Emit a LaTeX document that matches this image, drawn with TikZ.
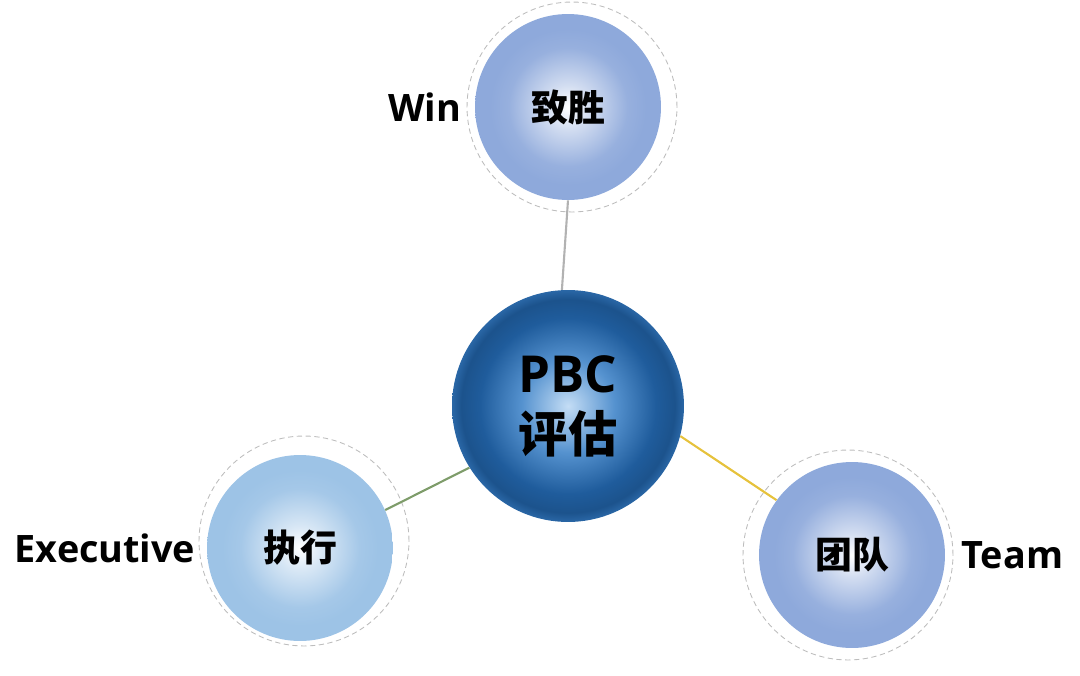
\documentclass[tikz,border=0pt]{standalone}
\usepackage{fontspec}
\setmainfont{Open Sans}
\newfontfamily\cjk{Noto Sans CJK SC}
\usetikzlibrary{positioning}

\definecolor{winblue}{HTML}{8EA9DB}
\definecolor{exeblue}{HTML}{9DC3E6}
\definecolor{hubdark}{HTML}{1F5C9C}
\definecolor{hubmid}{HTML}{5592CF}
\definecolor{hublight}{HTML}{C4DDF5}
\definecolor{ringgrey}{HTML}{BDBDBD}
\definecolor{linkgreen}{HTML}{7E9C6A}
\definecolor{linkgold}{HTML}{E6C23C}

\pgfdeclareradialshading{winball}{\pgfpoint{0bp}{0bp}}{color(0bp)=(white); color(6bp)=(winblue!40); color(16bp)=(winblue!92); color(21bp)=(winblue); color(50bp)=(winblue)}
\pgfdeclareradialshading{exeball}{\pgfpoint{0bp}{0bp}}{color(0bp)=(white); color(6bp)=(exeblue!40); color(16bp)=(exeblue!92); color(21bp)=(exeblue); color(50bp)=(exeblue)}
\pgfdeclareradialshading{hubball}{\pgfpoint{0bp}{0bp}}{color(0bp)=(hublight); color(10bp)=(hubmid); color(19bp)=(hubdark); color(23bp)=(hubdark!90!black); color(25bp)=(hubdark!80!hubmid); color(50bp)=(hubdark)}

\begin{document}
\begin{tikzpicture}[
  x=0.02cm, y=-0.02cm,
  hub/.style={circle, shading=hubball, minimum size=4.64cm, inner sep=0pt, align=center},
  spoke/.style={circle, minimum size=3.72cm, inner sep=0pt, font=\cjk\bfseries\fontsize{21}{24}\selectfont},
  ring/.style={circle, draw=ringgrey, densely dashed, line width=0.5pt, minimum size=4.2cm, inner sep=0pt},
  tag/.style={inner sep=0pt, font=\bfseries\fontsize{21.5}{26}\selectfont},
  link/.style={line width=1.2pt}
]
\useasboundingbox (0,0) rectangle (1080,676);

% outer dashed rings
\node[ring] (winring) at (572,107) {};
\node[ring] (exering) at (304,541) {};
\node[ring] (teamring) at (848,555) {};

% circles
\node[hub] (pbc) at (568,406)
  {{\bfseries\fontsize{29}{33}\selectfont PBC}\\[9pt]{\cjk\bfseries\fontsize{28}{32}\selectfont 评估}};
\node[spoke, shading=winball] (win) at (568,107) {致胜};
\node[spoke, shading=exeball] (exe) at (300,548) {执行};
\node[spoke, shading=winball] (team) at (852,555) {团队};

% connectors
\draw[link, draw=black!30] (win.-90) -- (pbc.93);
\draw[link, draw=linkgreen] (exe.24) -- (pbc.212);
\draw[link, draw=linkgold] (pbc.-15) -- (team.144);

% english labels
\node[tag, left=0.26cm of win] (wintag) {Win};
\node[tag, left=0.22cm of exe] (exetag) {Executive};
\node[tag, right=0.32cm of team] (teamtag) {Team};

\end{tikzpicture}
\end{document}
